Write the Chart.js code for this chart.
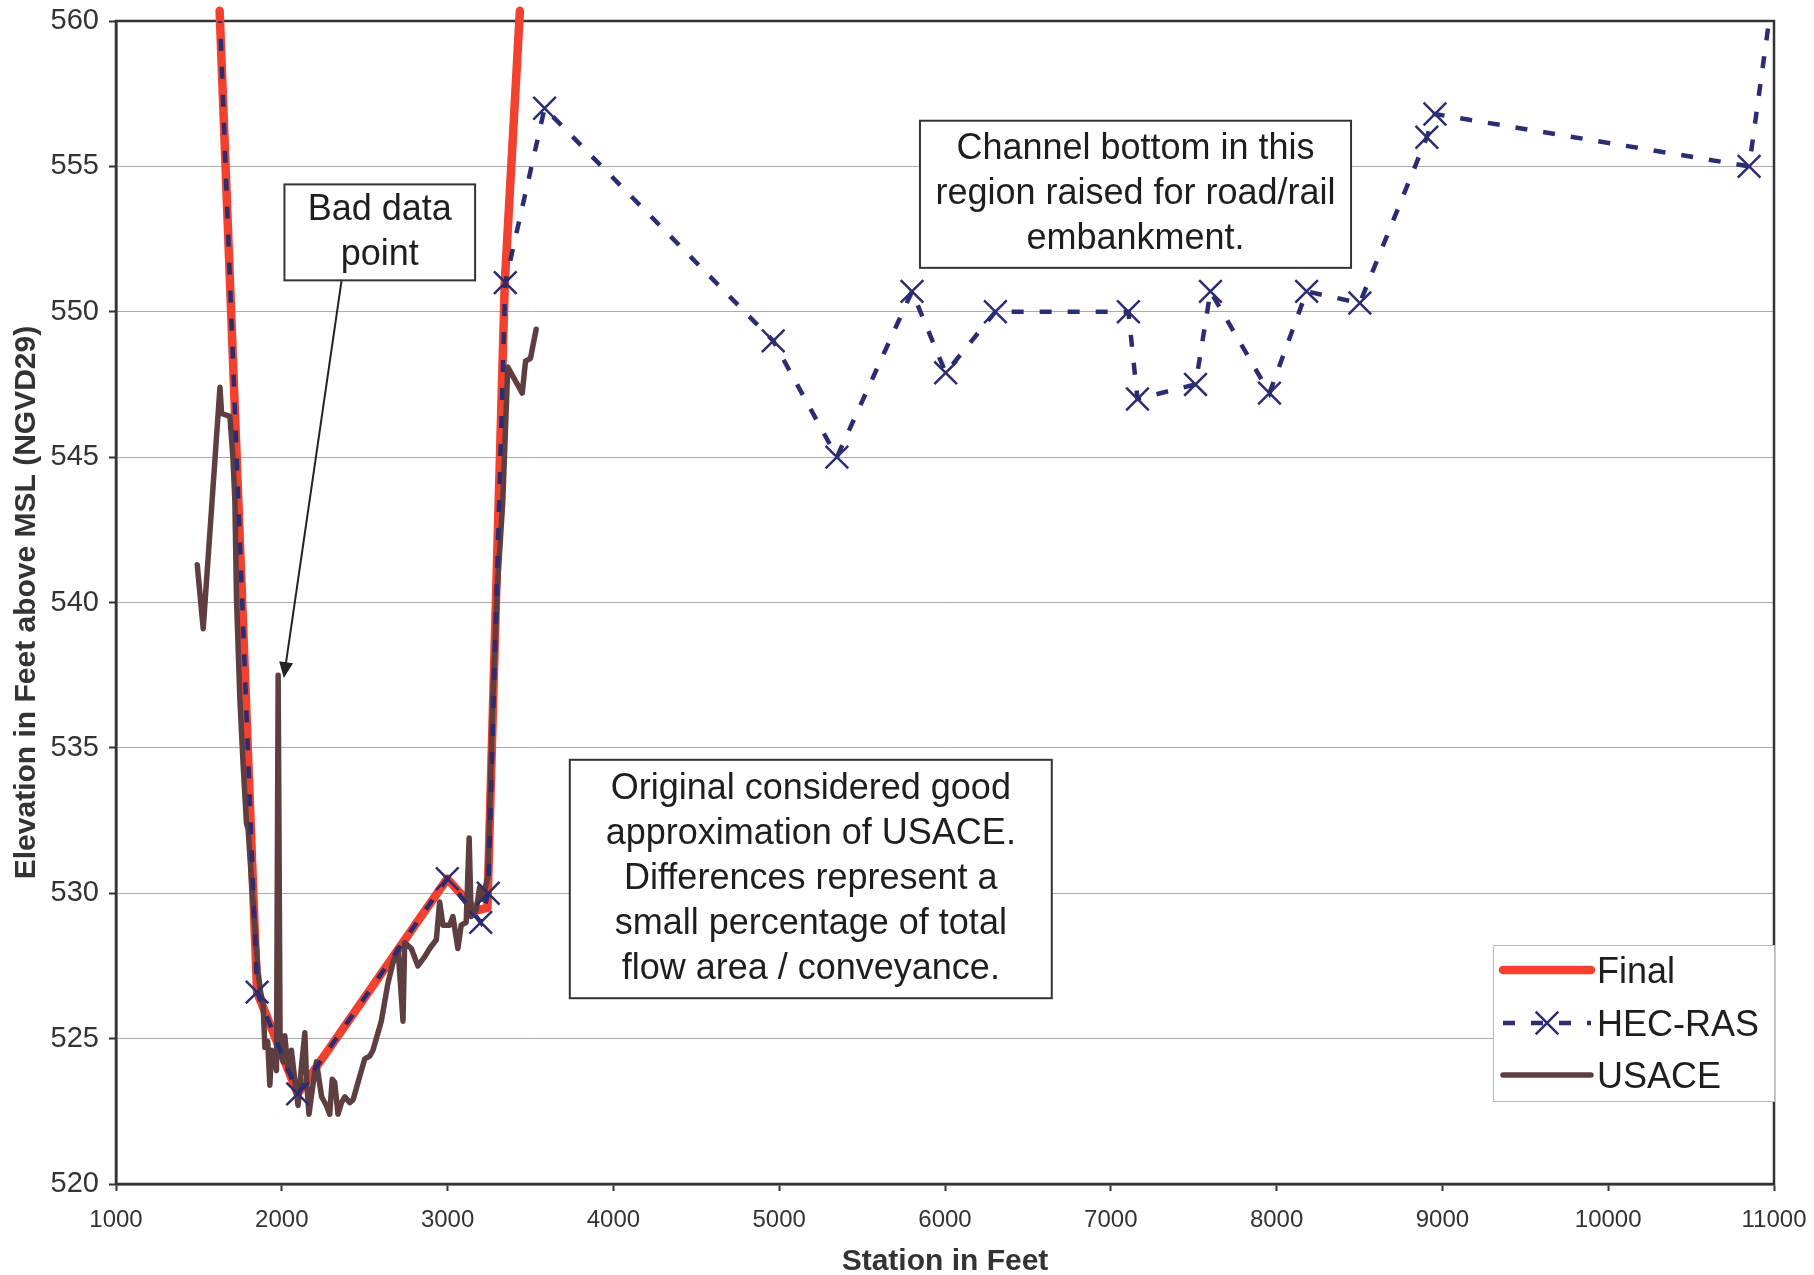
<!DOCTYPE html>
<html lang="en">
<head>
<meta charset="UTF-8">
<title>Station vs Elevation</title>
<script src="https://cdn.jsdelivr.net/npm/chart.js"></script>
<style>
    html, body { margin: 0; padding: 0; background: #fff; }
    .wrap { width: 1814px; height: 1275px; position: relative; }
</style>
</head>
<body>
<div class="wrap"><canvas id="chartPerfil"></canvas></div>
<script>
    // Final section
    const finalX = [1625, 1851, 2096, 2998, 3170, 3240, 3345, 3436];
    const finalY = [560.35, 526.6, 523.1, 530.5, 529.4, 529.5, 551.0, 560.35];

    // HEC-RAS section
    const hecX = [1625, 1851, 2096, 2998, 3200, 3245, 3348, 3585, 4964, 5348, 5801, 6004, 6304,
                  7106, 7161, 7511, 7601, 7957, 8181, 8502, 8906, 8955, 10850, 10975];
    const hecY = [560.35, 526.6, 523.1, 530.5, 529.0, 530.0, 551.0, 557.0, 549.0, 545.0, 550.7, 547.9, 550.0,
                  550.0, 547.0, 547.5, 550.7, 547.2, 550.7, 550.3, 556.0, 556.8, 555.0, 560.2];

    // USACE survey
    const usaceX = [1490, 1526, 1627, 1637, 1687, 1705, 1717, 1727, 1747, 1767, 1787, 1797, 1820, 1847,
                    1857, 1872, 1887, 1898, 1915, 1928, 1938, 1955, 1968, 1978, 1990, 2008, 2018, 2038,
                    2058, 2078, 2098, 2118, 2139, 2150, 2164, 2185, 2209, 2240, 2269, 2289, 2304, 2319,
                    2339, 2360, 2380, 2410, 2430, 2460, 2500, 2530, 2550, 2570, 2600, 2640, 2670, 2701,
                    2731, 2741, 2781, 2821, 2860, 2892, 2932, 2952, 2972, 3012, 3032, 3062, 3082, 3112,
                    3130, 3142, 3172, 3193, 3213, 3243, 3253, 3273, 3300, 3333, 3363, 3450, 3470, 3500, 3534];
    const usaceY = [541.3, 539.1, 547.4, 546.5, 546.4, 545.0, 543.5, 540.1, 536.7, 534.4, 532.4, 532.2, 530.2, 528.1,
                    527.3, 526.6, 526.2, 524.7, 524.9, 523.4, 524.6, 524.3, 523.9, 537.5, 524.6, 524.2, 525.1, 523.9,
                    524.6, 523.6, 522.7, 524.0, 525.2, 523.5, 522.4, 523.3, 524.2, 523.0, 522.7, 522.4, 523.6, 523.5,
                    522.4, 522.8, 523.0, 522.8, 522.9, 523.5, 524.3, 524.4, 524.6, 525.0, 525.6, 526.9, 527.6, 528.1,
                    525.6, 528.3, 528.1, 527.5, 527.8, 528.1, 528.4, 529.7, 528.9, 528.9, 529.2, 528.1, 528.9, 529.0,
                    531.9, 529.2, 529.4, 530.2, 529.8, 530.6, 532.6, 536.7, 540.5, 543.5, 548.1, 547.2, 548.3, 548.4, 549.4];

    const xMin = 1000, xMax = 11000, xStep = 1000;
    const yMin = 520, yMax = 560, yStep = 5;

    const FAMILY = '"Liberation Sans", Arial, Helvetica, sans-serif';
    const ROJO = '#F2412F', AZUL = '#2C2C72', CAFE = '#5E3E40';

    // text boxes, corners in axis units
    const notas = [
        { lines: ['Bad data', 'point'], x0: 2016, x1: 3166, y0: 554.38, y1: 551.08 },
        { lines: ['Channel bottom in this', 'region raised for road/rail', 'embankment.'], x0: 5849, x1: 8449, y0: 556.57, y1: 551.51 },
        { lines: ['Original considered good', 'approximation of USACE.', 'Differences represent a', 'small percentage of total', 'flow area / conveyance.'],
          x0: 3737, x1: 6644, y0: 534.59, y1: 526.39 }
    ];
    const flecha = { x0: 2360, y0: 551.05, x1: 2012, y1: 537.4 };

    function hayFuente(nombre) {
        const c = document.createElement('canvas').getContext('2d');
        c.font = 'bold 40px monospace';
        const w0 = c.measureText('Station in Feet').width;
        c.font = 'bold 40px "' + nombre + '", monospace';
        return c.measureText('Station in Feet').width !== w0;
    }
    const tituloFont = hayFuente('Liberation Sans Narrow')
        ? { family: '"Liberation Sans Narrow", ' + FAMILY, size: 37, weight: 'bold', lineHeight: 0.9 }
        : { family: FAMILY, size: 30, weight: 'bold', lineHeight: 0.9 };

    const toPts = (xs, ys) => xs.map((x, i) => ({ x: x, y: ys[i] }));

    function dibujaX(ctx, cx, cy, h) {
        ctx.beginPath();
        ctx.moveTo(cx - h, cy - h); ctx.lineTo(cx + h, cy + h);
        ctx.moveTo(cx - h, cy + h); ctx.lineTo(cx + h, cy - h);
        ctx.stroke();
    }

    const notasPlugin = {
        id: 'notas',
        beforeDatasetsDraw(chart) {
            const { ctx, chartArea: a } = chart;
            ctx.save();
            ctx.strokeStyle = '#333';
            ctx.lineWidth = 2.5;
            ctx.strokeRect(a.left, a.top, a.right - a.left, a.bottom - a.top);
            ctx.restore();
        },
        afterDatasetsDraw(chart) {
            const { ctx, chartArea: a, scales } = chart;
            const sx = scales.x, sy = scales.y;
            ctx.save();

            // arrow to the bad point
            const ax0 = sx.getPixelForValue(flecha.x0), ay0 = sy.getPixelForValue(flecha.y0);
            const ax1 = sx.getPixelForValue(flecha.x1), ay1 = sy.getPixelForValue(flecha.y1);
            const ang = Math.atan2(ay1 - ay0, ax1 - ax0);
            ctx.strokeStyle = '#222'; ctx.fillStyle = '#222'; ctx.lineWidth = 2;
            ctx.beginPath();
            ctx.moveTo(ax0, ay0);
            ctx.lineTo(ax1 - 12 * Math.cos(ang), ay1 - 12 * Math.sin(ang));
            ctx.stroke();
            ctx.beginPath();
            ctx.moveTo(ax1, ay1);
            ctx.lineTo(ax1 - 16 * Math.cos(ang) + 7 * Math.sin(ang), ay1 - 16 * Math.sin(ang) - 7 * Math.cos(ang));
            ctx.lineTo(ax1 - 16 * Math.cos(ang) - 7 * Math.sin(ang), ay1 - 16 * Math.sin(ang) + 7 * Math.cos(ang));
            ctx.closePath();
            ctx.fill();

            // text boxes
            ctx.font = '36px ' + FAMILY;
            ctx.textAlign = 'center';
            ctx.textBaseline = 'middle';
            notas.forEach(n => {
                const l = sx.getPixelForValue(n.x0), r = sx.getPixelForValue(n.x1);
                const t = sy.getPixelForValue(n.y0), b = sy.getPixelForValue(n.y1);
                ctx.fillStyle = '#fff';
                ctx.fillRect(l, t, r - l, b - t);
                ctx.strokeStyle = '#333'; ctx.lineWidth = 2;
                ctx.strokeRect(l, t, r - l, b - t);
                ctx.fillStyle = '#1e1e1e';
                const cx = (l + r) / 2, cy = (t + b) / 2;
                n.lines.forEach((s, i) => ctx.fillText(s, cx, cy + (i - (n.lines.length - 1) / 2) * 45));
            });

            // legend
            const lx0 = a.right - 281, ly0 = a.bottom - 239;
            ctx.fillStyle = '#fff';
            ctx.fillRect(lx0, ly0, 281, 156);
            ctx.strokeStyle = '#b8b8b8'; ctx.lineWidth = 1;
            ctx.strokeRect(lx0 + 0.5, ly0 + 0.5, 281, 156);
            const filas = [25, 78, 130];
            chart.data.datasets.forEach((ds, i) => {
                const yy = ly0 + filas[i];
                ctx.strokeStyle = ds.borderColor;
                ctx.lineWidth = ds.borderWidth;
                ctx.lineCap = ds.borderDash ? 'butt' : 'round';
                ctx.setLineDash(ds.borderDash || []);
                ctx.beginPath();
                ctx.moveTo(lx0 + 10, yy); ctx.lineTo(lx0 + 98, yy);
                ctx.stroke();
                ctx.setLineDash([]);
                if (ds.pointStyle === 'crossRot') {
                    ctx.lineWidth = ds.pointBorderWidth; ctx.lineCap = 'butt';
                    dibujaX(ctx, lx0 + 54, yy, 11.3);
                }
                ctx.fillStyle = '#1e1e1e';
                ctx.textAlign = 'left';
                ctx.fillText(ds.label, lx0 + 104, yy + 3);
            });
            ctx.restore();
        }
    };

    const enRango = c => (c.raw && c.raw.y <= yMax && c.raw.y >= yMin) ? 16 : 0;

    new Chart(document.getElementById('chartPerfil'), {
        type: 'line',
        data: {
            datasets: [
                { label: 'Final', data: toPts(finalX, finalY), borderColor: ROJO, borderWidth: 8.5,
                  pointRadius: 0, pointHoverRadius: 0, order: 3, clip: false,
                  borderJoinStyle: 'round', borderCapStyle: 'round' },
                { label: 'HEC-RAS', data: toPts(hecX, hecY), borderColor: AZUL, borderWidth: 4.5,
                  borderDash: [12, 16], pointStyle: 'crossRot', pointRadius: enRango, pointHoverRadius: 0,
                  pointBorderColor: AZUL, pointBackgroundColor: AZUL, pointBorderWidth: 2.5, order: 1 },
                { label: 'USACE', data: toPts(usaceX, usaceY), borderColor: CAFE, borderWidth: 5.5,
                  pointRadius: 0, pointHoverRadius: 0, order: 2,
                  borderJoinStyle: 'round', borderCapStyle: 'round' }
            ]
        },
        options: {
            responsive: true,
            maintainAspectRatio: false,
            animation: false,
            layout: { padding: { left: 0, right: 40, top: 21, bottom: 0 } },
            plugins: { legend: { display: false }, tooltip: { enabled: false } },
            scales: {
                x: {
                    type: 'linear', min: xMin, max: xMax,
                    ticks: { stepSize: xStep, color: '#333', font: { family: FAMILY, size: 24 }, padding: 15,
                             maxRotation: 0, autoSkip: false, callback: v => String(v) },
                    grid: { drawOnChartArea: false, tickLength: 7, tickColor: '#333', tickWidth: 2 },
                    border: { color: '#333', width: 2.5 },
                    title: { display: true, text: 'Station in Feet', color: '#333', font: tituloFont,
                             padding: { top: 0, bottom: 0 } },
                    afterFit: s => { s.height = 91; s.paddingLeft = 0; s.paddingRight = 0; }
                },
                y: {
                    type: 'linear', min: yMin, max: yMax,
                    ticks: { stepSize: yStep, color: '#333', font: { family: FAMILY, size: 29 }, padding: 10,
                             callback: v => String(v) },
                    grid: { color: '#ababab', lineWidth: 1, tickLength: 7, tickColor: '#333', tickWidth: 2 },
                    border: { color: '#333', width: 2.5 },
                    title: { display: true, text: 'Elevation in Feet above MSL (NGVD29)', color: '#333', font: tituloFont,
                             padding: { top: 13, bottom: 0 } },
                    afterFit: s => { s.width = 116; s.paddingTop = 0; s.paddingBottom = 0; }
                }
            }
        },
        plugins: [notasPlugin]
    });
</script>
</body>
</html>
